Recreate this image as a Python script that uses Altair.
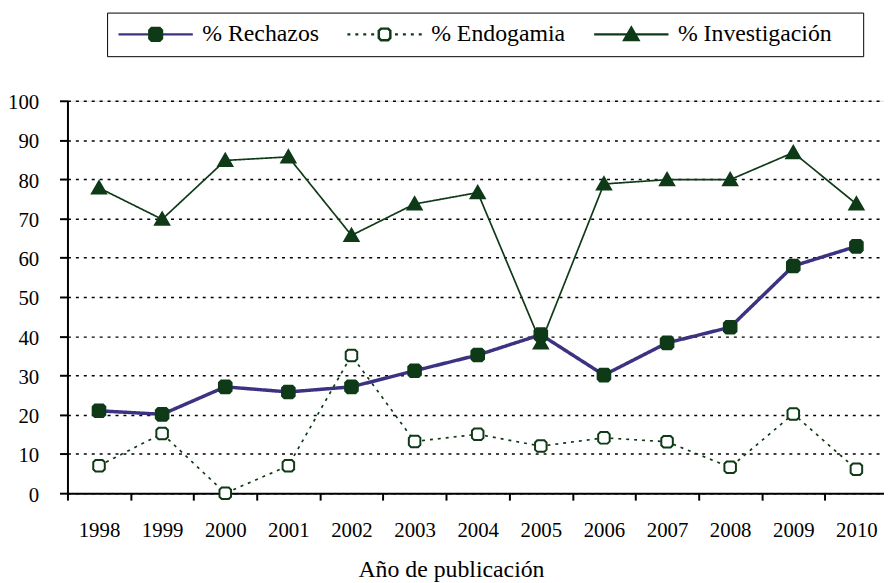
import altair as alt
import pandas as pd

# ---------------- data ----------------
years = ["1998", "1999", "2000", "2001", "2002", "2003", "2004",
         "2005", "2006", "2007", "2008", "2009", "2010"]
rechazos = [21.0, 20.1, 27.1, 25.8, 27.1, 31.2, 35.2, 40.4, 30.1, 38.3, 42.3, 57.9, 62.9]
endogamia = [7.0, 15.2, 0.0, 7.0, 35.1, 13.2, 15.0, 12.0, 14.1, 13.1, 6.6, 20.2, 6.1]
investigacion = [77.8, 69.8, 84.8, 85.7, 65.7, 73.7, 76.6, 38.3, 78.8, 79.9, 79.9, 86.8, 73.7]

series_names = ["% Rechazos", "% Endogamia", "% Investigación"]
series_codes = ["r", "e", "i"]

rows = []
# draw order of markers: triangles, circles, squares on top
for name, code, vals in [("% Investigación", "i", investigacion),
                         ("% Endogamia", "e", endogamia),
                         ("% Rechazos", "r", rechazos)]:
    for y, v in zip(years, vals):
        rows.append({"year": y, "value": v, "serie": name, "code": code})
df = pd.DataFrame(rows)

# ---------------- styles ----------------
GREEN = "#0e3a17"
PURPLE = "#3b3281"
FONT = "Liberation Serif, Times New Roman, serif"

# custom symbols (the two leading moves only widen the bounds so both legends align)
WIDE = "M-1,0M1,0"
SQ = WIDE + "M-0.17,-0.11L-0.11,-0.17L0.11,-0.17L0.17,-0.11L0.17,0.11L0.11,0.17L-0.11,0.17L-0.17,0.11Z"
OCT = WIDE + "M-0.155,-0.095L-0.095,-0.155L0.095,-0.155L0.155,-0.095L0.155,0.095L0.095,0.155L-0.095,0.155L-0.155,0.095Z"
TRI = WIDE + "M0,-0.18L0.19,0.15L-0.19,0.15Z"

common = dict(
    orient="none", legendX=40, legendY=-89, direction="horizontal",
    title=".", titleOrient="right", titlePadding=16, titleOpacity=0,
    titleFont=FONT, titleFontSize=24, titleFontWeight="normal",
    padding=10, columnPadding=27, clipHeight=24,
    labelFont=FONT, labelFontSize=24, labelColor="black", labelOffset=8,
    labelLimit=400, symbolSize=5625, symbolStrokeWidth=2.5,
)
legendA = alt.Legend(symbolType="stroke", strokeColor="black", **common)
legendB = alt.Legend(
    labelExpr="datum.label == 'r' ? '% Rechazos' : datum.label == 'e' ? '% Endogamia' : '% Investigación'",
    labelOpacity=0, symbolOpacity=1, strokeColor="transparent", **common)

X = alt.X(
    "year:O",
    scale=alt.Scale(type="band", paddingInner=0, paddingOuter=0),
    bandPosition=0.5,
    axis=alt.Axis(
        title="Año de publicación", titleFont=FONT, titleFontSize=24,
        titleFontWeight="normal", titleColor="black", titleX=387, titleY=84,
        titleBaseline="alphabetic",
        tickBand="extent", tickSize=7, tickColor="black", tickWidth=2,
        domainColor="black", domainWidth=2, grid=False,
        labelFont=FONT, labelFontSize=21, labelColor="black", labelAngle=0,
        labelPadding=20,
    ),
)
Y = alt.Y(
    "value:Q",
    scale=alt.Scale(domain=[0, 100], nice=False),
    axis=alt.Axis(
        title=None, values=list(range(0, 101, 10)),
        grid=True, gridDash=[3, 5], gridColor="black", gridWidth=1.5, gridOpacity=1,
        tickSize=8, tickColor="black", tickWidth=2,
        domainColor="black", domainWidth=2,
        labelFont=FONT, labelFontSize=21, labelColor="black",
        labelPadding=21, labelOffset=2,
    ),
)

stroke_scale = alt.Scale(domain=series_names, range=[PURPLE, GREEN, GREEN])
dash_scale = alt.Scale(domain=series_names, range=[[1, 0], [3, 5], [1, 0]])

base = alt.Chart(df)

line_r = base.transform_filter(alt.datum.code == "r").mark_line(strokeWidth=3.5).encode(
    x=X, y=Y,
    stroke=alt.Stroke("serie:N", scale=stroke_scale, legend=legendA),
    strokeDash=alt.StrokeDash("serie:N", scale=dash_scale, legend=legendA),
)
line_o = base.transform_filter(alt.datum.code != "r").mark_line(strokeWidth=1.7).encode(
    x=X, y=Y,
    stroke=alt.Stroke("serie:N", scale=stroke_scale, legend=legendA),
    strokeDash=alt.StrokeDash("serie:N", scale=dash_scale, legend=legendA),
)

shape_scale = alt.Scale(domain=series_codes, range=[SQ, OCT, TRI])
fill_scale = alt.Scale(domain=series_codes, range=[GREEN, "white", GREEN])
mstroke_scale = alt.Scale(domain=series_codes, range=[GREEN, GREEN, GREEN])

points = base.mark_point(filled=False, size=5625, strokeWidth=2, opacity=1).encode(
    x=X, y=Y,
    shape=alt.Shape("code:N", scale=shape_scale, legend=legendB),
    fill=alt.Fill("code:N", scale=fill_scale, legend=legendB),
    color=alt.Color("code:N", scale=mstroke_scale, legend=legendB),
)

chart = alt.layer(line_r, line_o, points).properties(
    width=828, height=396,
    autosize=alt.AutoSizeParams(type="none"),
    padding={"left": 60, "top": 91, "right": -4, "bottom": 88},
    background="white",
).configure_view(stroke=None).configure_legend(
    strokeWidth=1.5, labelFont=FONT, titleFont=FONT
).configure_axis(labelFont=FONT, titleFont=FONT).configure(font=FONT)

chart.save("out.html", embed_options={"renderer": "svg", "actions": False})
